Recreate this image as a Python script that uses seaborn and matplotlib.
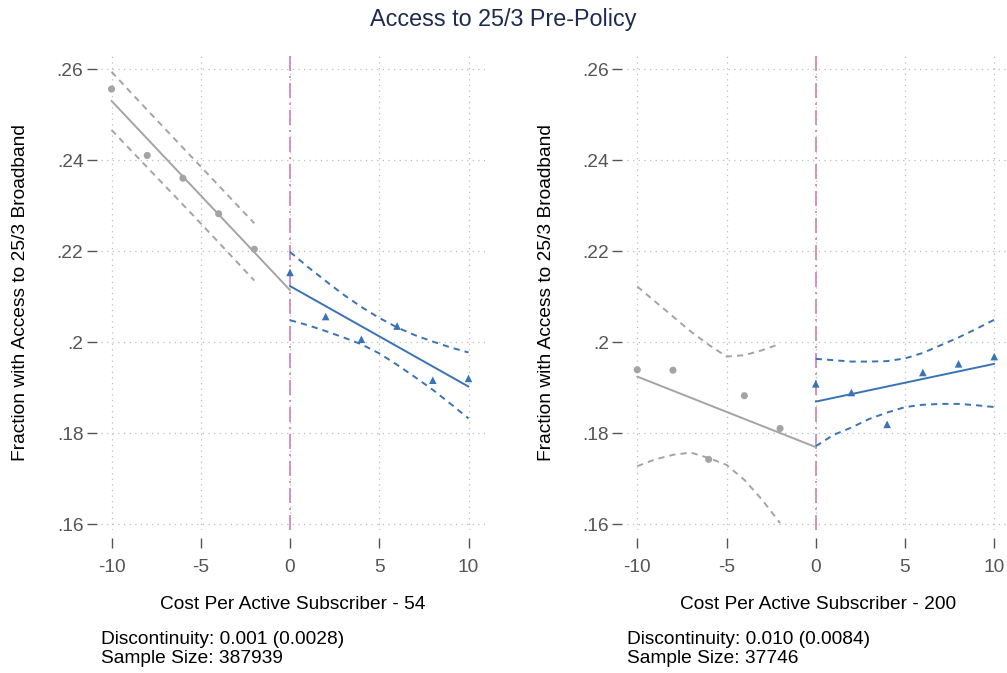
import matplotlib
matplotlib.use("Agg")
import matplotlib.pyplot as plt
import seaborn as sns

# ---- binned means and fitted lines (cost-per-subscriber threshold 54) ----
bins_below = [-10, -8, -6, -4, -2]
bins_above = [0, 2, 4, 6, 8, 10]

means_below_54 = [0.2556, 0.2410, 0.2360, 0.2282, 0.2204]
means_above_54 = [0.2153, 0.2056, 0.2006, 0.2035, 0.1916, 0.1920]
fit_x_below = [-10, 0]
fit_x_above = [0, 10]
fit_below_54 = [0.2530, 0.2114]
fit_above_54 = [0.2123, 0.1902]

ci_x_below_54 = [-10, -8, -6, -4, -2]
ci_hi_below_54 = [0.2594, 0.2510, 0.2427, 0.2344, 0.2261]
ci_lo_below_54 = [0.2466, 0.2384, 0.2302, 0.2219, 0.2135]
ci_x_above = [0, 1, 2, 3, 4, 5, 6, 7, 8, 9, 10]
ci_hi_above_54 = [0.2198, 0.2165, 0.2134, 0.2104, 0.2077, 0.2053, 0.2032, 0.2015, 0.2001, 0.1988, 0.1977]
ci_lo_above_54 = [0.2048, 0.2037, 0.2024, 0.2010, 0.1995, 0.1975, 0.1950, 0.1923, 0.1895, 0.1864, 0.1832]

# ---- threshold 200 ----
means_below_200 = [0.1939, 0.1938, 0.1742, 0.1882, 0.1810]
means_above_200 = [0.1908, 0.1889, 0.1819, 0.1933, 0.1952, 0.1968]
fit_below_200 = [0.1924, 0.1769]
fit_above_200 = [0.1869, 0.1952]

ci_x_below_200 = [-10, -9, -8, -7, -6, -5, -4, -3, -2]
ci_hi_below_200 = [0.2122, 0.2089, 0.2056, 0.2023, 0.1994, 0.1968, 0.1971, 0.1982, 0.1996]
ci_lo_below_200 = [0.1727, 0.1742, 0.1752, 0.1757, 0.1745, 0.1730, 0.1697, 0.1653, 0.1602]
ci_hi_above_200 = [0.1963, 0.1960, 0.1957, 0.1957, 0.1958, 0.1964, 0.1976, 0.1993, 0.2010, 0.2029, 0.2049]
ci_lo_above_200 = [0.1771, 0.1796, 0.1812, 0.1831, 0.1845, 0.1857, 0.1862, 0.1864, 0.1864, 0.1861, 0.1857]

x_ticks = [-10, -5, 0, 5, 10]
y_ticks = [0.16, 0.18, 0.20, 0.22, 0.24, 0.26]
y_tick_labels = [".16", ".18", ".2", ".22", ".24", ".26"]

panels = [
    dict(mb=means_below_54, ma=means_above_54, fb=fit_below_54, fa=fit_above_54,
         cxb=ci_x_below_54, chb=ci_hi_below_54, clb=ci_lo_below_54,
         cha=ci_hi_above_54, cla=ci_lo_above_54,
         xlabel="Cost Per Active Subscriber - 54",
         note="Discontinuity: 0.001 (0.0028)\nSample Size: 387939"),
    dict(mb=means_below_200, ma=means_above_200, fb=fit_below_200, fa=fit_above_200,
         cxb=ci_x_below_200, chb=ci_hi_below_200, clb=ci_lo_below_200,
         cha=ci_hi_above_200, cla=ci_lo_above_200,
         xlabel="Cost Per Active Subscriber - 200",
         note="Discontinuity: 0.010 (0.0084)\nSample Size: 37746"),
]

sns.set_style("white")
plt.rcParams["font.family"] = ["Liberation Sans", "DejaVu Sans"]

GRAY = "#a4a4a4"
BLUE = "#3a73b5"
PINK = "#c983b4"
TICK = "#555555"
DASH = (0, (3.2, 2.6))
FS = 13.8

fig = plt.figure(figsize=(10.07, 6.73), dpi=100)
fig.suptitle("Access to 25/3 Pre-Policy", x=0.5, y=0.988, fontsize=16.8, color="#1d2b50")

lefts = [0.1001, 0.6222]
for left, p in zip(lefts, panels):
    ax = fig.add_axes([left, 0.2126, 0.3811, 0.7058])

    ax.axvline(0, color=PINK, lw=1.2, ls=(0, (9, 3, 1.2, 3)), zorder=1)

    # confidence bands
    for xs, ys, c in [(p["cxb"], p["chb"], GRAY), (p["cxb"], p["clb"], GRAY),
                      (ci_x_above, p["cha"], BLUE), (ci_x_above, p["cla"], BLUE)]:
        sns.lineplot(x=xs, y=ys, ax=ax, color=c, lw=1.4, linestyle=DASH, zorder=2)

    # fitted lines
    sns.lineplot(x=fit_x_below, y=p["fb"], ax=ax, color=GRAY, lw=1.4, zorder=3)
    sns.lineplot(x=fit_x_above, y=p["fa"], ax=ax, color=BLUE, lw=1.4, zorder=3)

    # binned means
    sns.scatterplot(x=bins_below, y=p["mb"], ax=ax, color=GRAY, marker="o",
                    s=26, edgecolor="none", zorder=4)
    sns.scatterplot(x=bins_above, y=p["ma"], ax=ax, color=BLUE, marker="^",
                    s=30, edgecolor="none", zorder=4)

    ax.set_xlim(-10.6, 10.9)
    ax.set_ylim(0.1587, 0.2631)
    ax.set_xticks(x_ticks)
    ax.set_xticklabels([str(t) for t in x_ticks])
    ax.set_yticks(y_ticks)
    ax.set_yticklabels(y_tick_labels)

    ax.grid(True, linestyle=(0, (1, 3.5)), color="#bdbdbd", lw=0.9)
    ax.set_axisbelow(True)
    for s in ax.spines.values():
        s.set_visible(False)
    ax.spines["left"].set_position(("outward", 3))
    ax.spines["bottom"].set_position(("outward", 6))
    ax.tick_params(axis="both", which="major", direction="out", length=7.5, width=1.0,
                   color=TICK, labelcolor=TICK, labelsize=FS, pad=2,
                   left=True, bottom=True)
    ax.tick_params(axis="x", pad=7.5)

    ax.set_ylabel("Fraction with Access to 25/3 Broadband", fontsize=FS, color="black", labelpad=20)
    ax.set_xlabel(p["xlabel"], fontsize=FS, color="black", labelpad=14)
    ax.text(0.0, -0.2135, p["note"], transform=ax.transAxes, ha="left", va="top",
            fontsize=FS, color="black", linespacing=1.1)

fig.savefig("out.png", dpi=100)
